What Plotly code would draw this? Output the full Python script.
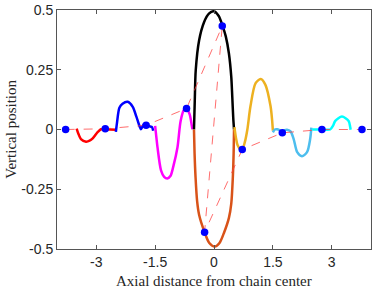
import plotly.graph_objects as go

# lobe curves (x, y)
red_x = [-3.50, -3.45, -3.39, -3.26, -3.17, -3.09, -2.96, -2.88, -2.77, -2.65, -2.50]
red_y = [0.004, -0.020, -0.040, -0.051, -0.047, -0.037, -0.010, 0.001, 0.002, 0.000, -0.001]

blue_x = [-2.50, -2.47, -2.41, -2.33, -2.20, -2.07, -1.98, -1.90, -1.86, -1.80, -1.70, -1.62, -1.58, -1.55]
blue_y = [-0.010, 0.030, 0.091, 0.108, 0.116, 0.095, 0.055, 0.015, 0.001, 0.018, 0.018, 0.012, 0.010, -0.005]

mag_x = [-1.50, -1.47, -1.44, -1.35, -1.27, -1.19, -1.11, -1.03, -0.93, -0.85, -0.76, -0.70, -0.62, -0.57, -0.55]
mag_y = [0.015, -0.030, -0.074, -0.171, -0.198, -0.205, -0.195, -0.150, -0.074, 0.036, 0.084, 0.088, 0.063, 0.020, 0.001]

blk_x = [-0.51, -0.49, -0.465, -0.38, -0.254, -0.13, 0.00, 0.12, 0.22, 0.30, 0.38, 0.44, 0.465, 0.49, 0.51]
blk_y = [0.000, 0.120, 0.249, 0.373, 0.449, 0.485, 0.495, 0.475, 0.433, 0.390, 0.318, 0.220, 0.139, 0.050, 0.000]

org_x = [-0.51, -0.495, -0.47, -0.43, -0.38, -0.24, -0.12, 0.02, 0.14, 0.26, 0.38, 0.44, 0.48, 0.50, 0.51]
org_y = [0.000, -0.100, -0.200, -0.300, -0.357, -0.430, -0.475, -0.490, -0.475, -0.430, -0.370, -0.310, -0.200, -0.100, 0.000]

yel_x = [0.52, 0.56, 0.60, 0.67, 0.72, 0.79, 0.85, 0.93, 1.06, 1.19, 1.31, 1.44, 1.48, 1.50]
yel_y = [0.010, -0.035, -0.065, -0.083, -0.084, -0.050, 0.000, 0.098, 0.194, 0.211, 0.187, 0.098, 0.040, -0.005]

lb_x = [1.50, 1.55, 1.61, 1.69, 1.73, 1.80, 1.86, 1.95, 2.03, 2.12, 2.24, 2.37, 2.45, 2.48]
lb_y = [-0.012, 0.000, 0.001, -0.005, -0.012, -0.003, -0.001, -0.008, -0.040, -0.095, -0.112, -0.095, -0.040, 0.008]

cyan_x = [2.50, 2.75, 2.96, 3.03, 3.09, 3.26, 3.43, 3.47, 3.48]
cyan_y = [0.000, 0.000, 0.000, 0.015, 0.036, 0.054, 0.036, 0.010, -0.001]

# chain nodes
dot_x = [-3.78, -2.77, -1.73, -0.70, 0.21, -0.24, 0.72, 1.74, 2.75, 3.77]
dot_y = [0.000, 0.003, 0.018, 0.088, 0.433, -0.430, -0.084, -0.014, 0.000, 0.000]

x_ticks = [-3, -1.5, 0, 1.5, 3]
x_tick_labels = ["-3", "-1.5", "0", "1.5", "3"]
y_ticks = [-0.5, -0.25, 0, 0.25, 0.5]
y_tick_labels = ["-0.5", "-0.25", "0", "0.25", "0.5"]

curves = [
    (red_x, red_y, "#FF0000"),
    (blue_x, blue_y, "#0000FF"),
    (mag_x, mag_y, "#FF00FF"),
    (blk_x, blk_y, "#000000"),
    (org_x, org_y, "#D95319"),
    (yel_x, yel_y, "#EDB120"),
    (lb_x, lb_y, "#4DBEEE"),
    (cyan_x, cyan_y, "#00FFFF"),
]

fig = go.Figure()
for cx, cy, col in curves:
    fig.add_trace(go.Scatter(x=cx, y=cy, mode="lines",
                             line=dict(color=col, width=2.5, shape="spline", smoothing=0.8),
                             showlegend=False, hoverinfo="skip"))

fig.add_trace(go.Scatter(x=dot_x, y=dot_y, mode="lines",
                         line=dict(color="rgba(255,60,60,0.75)", width=1, dash="dash"),
                         showlegend=False))
fig.add_trace(go.Scatter(x=dot_x, y=dot_y, mode="markers",
                         marker=dict(color="#0000FF", size=7.5),
                         showlegend=False))

axis_common = dict(showgrid=False, zeroline=False, showline=True, linecolor="#555555",
                   linewidth=1, mirror="ticks", ticks="inside", ticklen=4,
                   tickcolor="#555555", ticklabeloverflow="allow",
                   tickfont=dict(family="Liberation Sans, Arial", size=14, color="#262626"))

fig.update_xaxes(range=[-4, 4], tickvals=x_ticks, ticktext=x_tick_labels, **axis_common)
fig.update_yaxes(range=[-0.5003, 0.5003], tickvals=y_ticks, ticktext=y_tick_labels, **axis_common)

fig.update_layout(
    width=374, height=288,
    margin=dict(l=57, r=2, t=6, b=39),
    plot_bgcolor="white", paper_bgcolor="white",
    annotations=[
        dict(text="Axial distance from chain center", xref="paper", yref="paper",
             x=0.5, y=-0.132, xanchor="center", yanchor="middle", showarrow=False,
             font=dict(family="Liberation Serif, Times New Roman", size=15, color="#262626")),
        dict(text="Vertical position", xref="paper", yref="paper",
             x=-0.149, y=0.5, xanchor="center", yanchor="middle", showarrow=False,
             textangle=-90,
             font=dict(family="Liberation Serif, Times New Roman", size=15, color="#262626")),
    ],
)

fig.write_html("out.html", config={"displayModeBar": False},
               post_script="document.body.style.margin='0';document.body.style.padding='0';")
